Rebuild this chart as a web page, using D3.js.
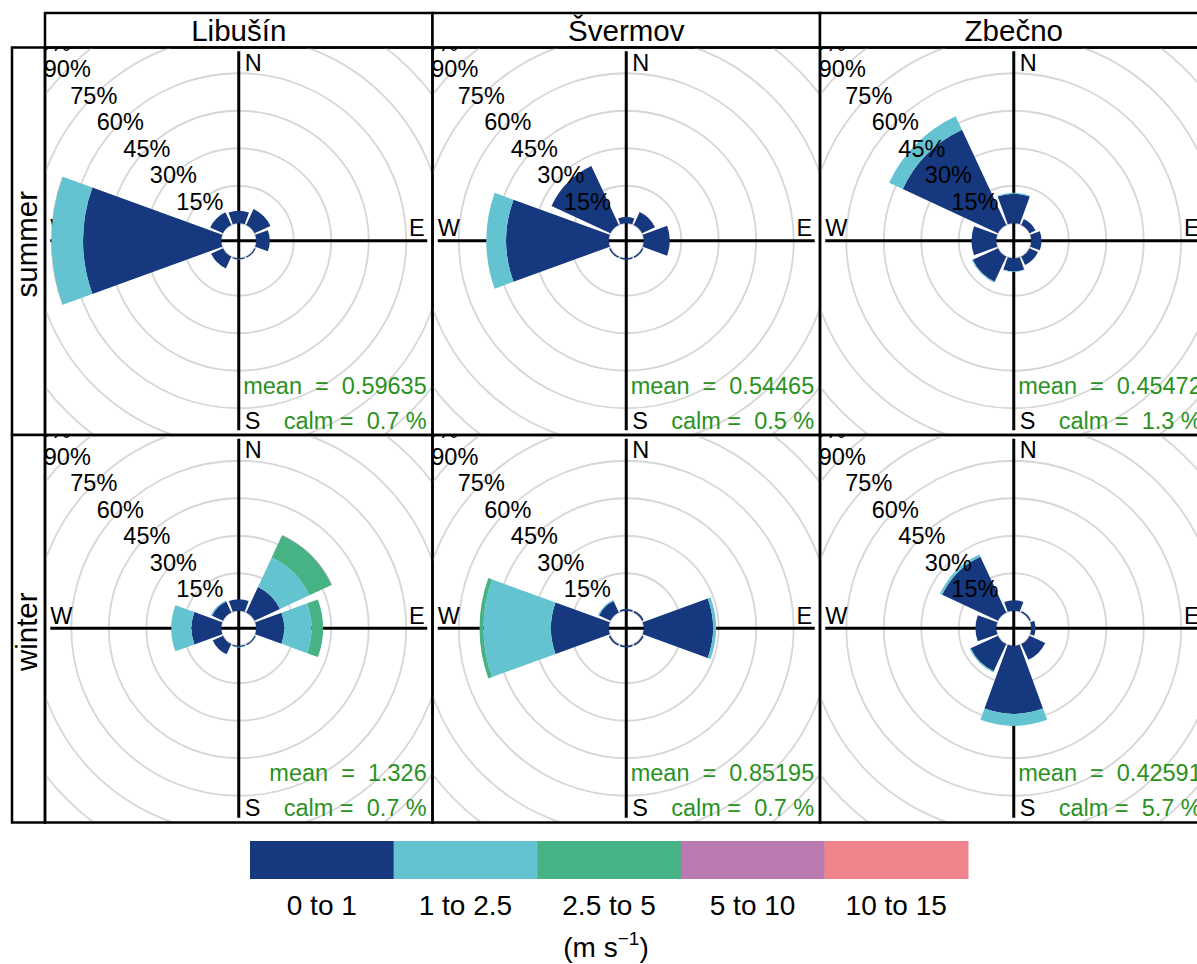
<!DOCTYPE html>
<html><head><meta charset="utf-8">
<script src="https://cdn.jsdelivr.net/npm/d3@7"></script>
<style>
body{margin:0;background:#fff}
svg text{font-family:"Liberation Sans",Arial,sans-serif}
</style>
</head><body>
<svg id="chart" width="1197" height="964"></svg>
<script>
// ---------------- data ----------------
const sites = ["Libušín", "Švermov", "Zbečno"];
const seasons = ["summer", "winter"];
const directions = [0, 45, 90, 135, 180, 225, 270, 315];
const compassLabels = ["N", "E", "S", "W"];
const speedBins = ["0 to 1", "1 to 2.5", "2.5 to 5", "5 to 10", "10 to 15"];
const binColours = ["#16387e", "#64c3d1", "#47b385", "#b97ab1", "#ef848d"];
const percentTicks = [15, 30, 45, 60, 75, 90, 105, 120];

// frequency (%) per direction (N, NE, E, SE, S, SW, W, NW) and speed bin
const libusinSummer = [
  [5.0, 0, 0, 0, 0],
  [7.0, 0, 0, 0, 0],
  [5.4, 0, 0, 0, 0],
  [0.5, 0, 0, 0, 0],
  [0.5, 0.1, 0, 0, 0],
  [5.2, 0, 0, 0, 0],
  [55.3, 12.6, 0.1, 0.1, 0],
  [5.6, 0, 0, 0, 0]
];
const svermovSummer = [
  [2.5, 0, 0, 0, 0],
  [5.7, 0, 0, 0, 0],
  [10.4, 0, 0, 0, 0],
  [0.6, 0, 0, 0, 0],
  [0.6, 0, 0, 0, 0],
  [0.6, 0, 0, 0, 0],
  [41.0, 8.0, 0, 0, 0],
  [26.0, 0, 0, 0, 0]
];
const zbecnoSummer = [
  [11.8, 0.4, 0, 0, 0],
  [2.6, 0, 0, 0, 0],
  [4.1, 0, 0, 0, 0],
  [3.7, 0, 0, 0, 0],
  [5.2, 0.3, 0, 0, 0],
  [11.1, 0.4, 0, 0, 0],
  [9.9, 0, 0, 0, 0],
  [42.0, 6.0, 0, 0, 0]
];
const libusinWinter = [
  [4.6, 0, 0, 0, 0],
  [11.2, 13.0, 9.8, 0.2, 0],
  [11.2, 10.9, 4.6, 0, 0],
  [0.5, 0.1, 0, 0, 0],
  [0.5, 0.2, 0, 0, 0],
  [4.5, 0, 0, 0, 0],
  [11.9, 8.0, 0.1, 0, 0],
  [4.8, 0.5, 0, 0, 0]
];
const svermovWinter = [
  [0.7, 0, 0, 0, 0],
  [0.7, 0, 0, 0, 0],
  [27.7, 1.2, 0, 0, 0],
  [0.7, 0, 0, 0, 0],
  [0.7, 0, 0, 0, 0],
  [0.7, 0, 0, 0, 0],
  [23.1, 27.0, 1.6, 0, 0],
  [5.0, 0.5, 0, 0, 0]
];
const zbecnoWinter = [
  [4.2, 0, 0, 0, 0],
  [0.6, 0, 0, 0, 0],
  [1.7, 0, 0, 0, 0],
  [6.9, 0, 0, 0, 0],
  [27.2, 4.8, 0, 0, 0],
  [12.0, 0.5, 0, 0, 0],
  [8.3, 0, 0, 0, 0],
  [24.6, 1.0, 0, 0, 0]
];
const panelData = [
  [libusinSummer, svermovSummer, zbecnoSummer],
  [libusinWinter, svermovWinter, zbecnoWinter]
];
const meanSpeed = [["0.59635", "0.54465", "0.45472"], ["1.326", "0.85195", "0.42591"]];
const calmPct = [["0.7", "0.5", "1.3"], ["0.7", "0.7", "5.7"]];

// ---------------- layout ----------------
const svg = d3.select("#chart");
const leftX = 45, topY = 47.5, cell = 387.5, stripTop = 13, rowStripLeft = 12;
const offsetPx = 17.5, pxPerPct = 2.5;
const rScale = d3.scaleLinear().domain([0, 100]).range([offsetPx, offsetPx + 100 * pxPerPct]);
const axisHalf = 188.5;
const halfWidth = 20 * Math.PI / 180;
const colour = d3.scaleOrdinal().domain(speedBins).range(binColours);
const arcGen = d3.arc();

// top strips
sites.forEach((s, c) => {
  const x0 = leftX + c * cell;
  svg.append("rect").attr("x", x0).attr("y", stripTop).attr("width", cell).attr("height", topY - stripTop)
    .attr("fill", "#fff").attr("stroke", "#000").attr("stroke-width", 2.5);
  svg.append("text").attr("x", x0 + cell / 2).attr("y", 40.5).attr("text-anchor", "middle")
    .attr("font-size", 29.5).text(s);
});
// row strips
seasons.forEach((s, j) => {
  const y0 = topY + j * cell;
  svg.append("rect").attr("x", rowStripLeft).attr("y", y0).attr("width", leftX - rowStripLeft).attr("height", cell)
    .attr("fill", "#fff").attr("stroke", "#000").attr("stroke-width", 2.5);
  svg.append("text").attr("transform", `translate(36.5,${y0 + cell / 2 + 3}) rotate(-90)`)
    .attr("text-anchor", "middle").attr("font-size", 29.5).text(s);
});

const defs = svg.append("defs");
seasons.forEach((season, j) => {
  sites.forEach((site, c) => {
    const x0 = leftX + c * cell, y0 = topY + j * cell;
    const cx = x0 + cell / 2, cy = y0 + cell / 2 - 0.5;
    const id = `clip${j}${c}`;
    defs.append("clipPath").attr("id", id).append("rect")
      .attr("x", x0).attr("y", y0).attr("width", cell).attr("height", cell);
    const g = svg.append("g").attr("clip-path", `url(#${id})`);
    const p = g.append("g").attr("transform", `translate(${cx},${cy})`);

    // grid circles
    p.selectAll("circle.grid").data([0].concat(percentTicks)).join("circle")
      .attr("class", "grid").attr("r", d => rScale(d)).attr("fill", "none")
      .attr("stroke", "#d6d6d6").attr("stroke-width", 1.8);

    // axes
    p.append("line").attr("x1", -axisHalf).attr("x2", axisHalf).attr("y1", 0).attr("y2", 0)
      .attr("stroke", "#000").attr("stroke-width", 3);
    p.append("line").attr("y1", -axisHalf - 1).attr("y2", axisHalf + 1).attr("x1", 0).attr("x2", 0)
      .attr("stroke", "#000").attr("stroke-width", 3);
    const fs = 23.5;
    p.append("text").attr("x", 6).attr("y", -170).attr("font-size", fs).text(compassLabels[0]);
    p.append("text").attr("x", 186).attr("y", -4.5).attr("text-anchor", "end").attr("font-size", fs).text(compassLabels[1]);
    p.append("text").attr("x", 6).attr("y", 188).attr("font-size", fs).text(compassLabels[2]);
    p.append("text").attr("x", -188.5).attr("y", -4.5).attr("font-size", fs).text(compassLabels[3]);

    // wedges
    const rows = panelData[j][c];
    const segs = [];
    rows.forEach((vals, k) => {
      let cum = 0;
      vals.forEach((v, b) => {
        if (v > 0) {
          segs.push({dir: directions[k], inner: cum, outer: cum + v, bin: speedBins[b]});
          cum += v;
        }
      });
    });
    p.selectAll("path.seg").data(segs).join("path").attr("class", "seg")
      .attr("d", d => arcGen({
        innerRadius: rScale(d.inner), outerRadius: rScale(d.outer),
        startAngle: d.dir * Math.PI / 180 - halfWidth,
        endAngle: d.dir * Math.PI / 180 + halfWidth
      }))
      .attr("fill", d => colour(d.bin));

    // percentage labels at 315 deg
    const ang = 315 * Math.PI / 180;
    p.selectAll("text.pct").data(percentTicks).join("text").attr("class", "pct")
      .attr("x", d => rScale(d) * Math.sin(ang)).attr("y", d => -rScale(d) * Math.cos(ang) + 8)
      .attr("text-anchor", "middle").attr("font-size", fs).text(d => d + "%");

    // annotations
    p.append("text").attr("x", 188).attr("y", 153).attr("text-anchor", "end")
      .attr("font-size", fs).attr("fill", "#2a9222").style("white-space", "pre")
      .text("mean  =  " + meanSpeed[j][c]);
    p.append("text").attr("x", 188).attr("y", 188).attr("text-anchor", "end")
      .attr("font-size", fs).attr("fill", "#2a9222").style("white-space", "pre")
      .text("calm =  " + calmPct[j][c] + " %");

    svg.append("rect").attr("x", x0).attr("y", y0).attr("width", cell).attr("height", cell)
      .attr("fill", "none").attr("stroke", "#000").attr("stroke-width", 2.5);
  });
});

// legend
const lx = d3.scaleBand().domain(speedBins).range([250, 968]).paddingInner(0);
const lg = svg.append("g");
lg.selectAll("rect").data(speedBins).join("rect")
  .attr("x", d => lx(d)).attr("y", 841).attr("width", lx.bandwidth() + 0.5).attr("height", 38)
  .attr("fill", d => colour(d));
lg.selectAll("text.lab").data(speedBins).join("text").attr("class", "lab")
  .attr("x", d => lx(d) + lx.bandwidth() / 2).attr("y", 915).attr("text-anchor", "middle")
  .attr("font-size", 28).text(d => d);
const unit = lg.append("text").attr("x", 606).attr("y", 957).attr("text-anchor", "middle").attr("font-size", 28);
unit.append("tspan").text("(m s");
unit.append("tspan").attr("dy", -12).attr("font-size", 19).text("\u22121");
unit.append("tspan").attr("dy", 12).text(")");
</script>
</body></html>
